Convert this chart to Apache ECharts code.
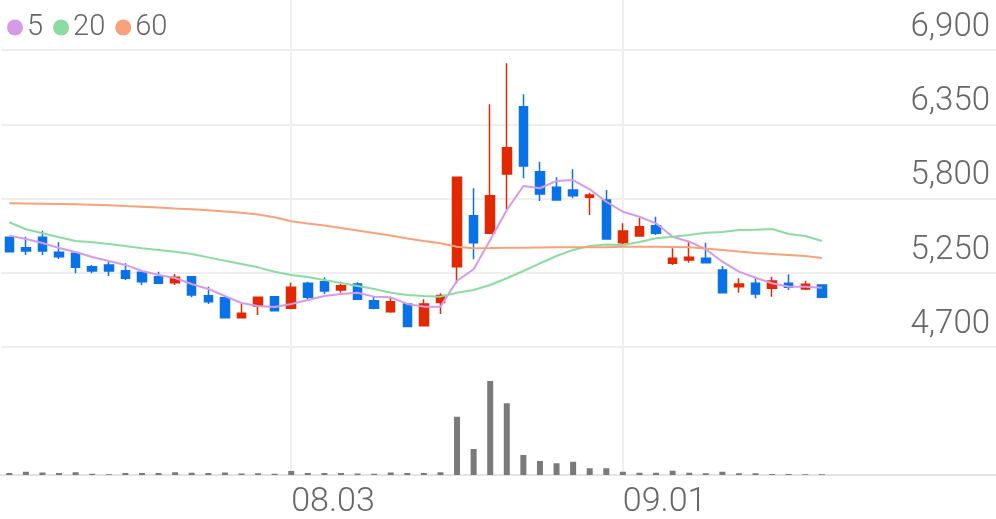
<!DOCTYPE html>
<html>
<head>
<meta charset="utf-8">
<script src="https://cdn.jsdelivr.net/npm/echarts@6/dist/echarts.min.js"></script>
<style>
  html, body { margin: 0; padding: 0; background: #fff; }
  #chart { width: 996px; height: 519px; }
</style>
</head>
<body>
<div id="chart"></div>
<script>
// trading days (last ten slots are empty space on the right)
const dates = [
  '07.09', '07.10', '07.13', '07.14', '07.15', '07.16', '07.17', '07.20', '07.21', '07.22',
  '07.23', '07.24', '07.27', '07.28', '07.29', '07.30', '07.31', '08.03', '08.04', '08.05',
  '08.06', '08.07', '08.10', '08.11', '08.12', '08.13', '08.14', '08.18', '08.19', '08.20',
  '08.21', '08.24', '08.25', '08.26', '08.27', '08.28', '08.31', '09.01', '09.02', '09.03',
  '09.04', '09.07', '09.08', '09.09', '09.10', '09.11', '09.14', '09.15', '09.16', '09.17',
  '09.18', '09.21', '09.22', '09.23', '09.24', '09.25', '09.28', '09.29', '10.05', '10.06'
];
const shownDates = ['08.03', '09.01'];

const opens = [
  5513, 5436, 5513, 5402, 5394, 5295, 5308, 5265, 5253, 5221,
  5176, 5221, 5080, 5065, 4917, 5004, 5073, 4987, 5172, 5184,
  5122, 5167, 5043, 4962, 5019, 4858, 5029, 5295, 5673, 5542,
  5982, 6480, 5999, 5883, 5863, 5809, 5789, 5473, 5522, 5599,
  5320, 5345, 5357, 5270, 5147, 5172, 5135, 5172, 5130, 5159
];
const closes = [
  5406, 5411, 5411, 5369, 5290, 5263, 5263, 5209, 5184, 5172,
  5216, 5085, 5036, 4917, 4950, 5068, 4969, 5142, 5068, 5115,
  5154, 5053, 4987, 5036, 4851, 5019, 5082, 5957, 5473, 5821,
  6176, 6041, 5833, 5789, 5821, 5826, 5500, 5559, 5591, 5542,
  5357, 5364, 5325, 5102, 5167, 5093, 5189, 5142, 5165, 5068
];
const lows = [
  5400, 5382, 5382, 5352, 5246, 5246, 5226, 5196, 5159, 5167,
  5159, 5068, 5019, 4915, 4915, 4937, 4965, 4980, 5053, 5093,
  5102, 5048, 4980, 4954, 4848, 4855, 4945, 5172, 5350, 5535,
  5720, 5950, 5782, 5784, 5802, 5678, 5495, 5448, 5520, 5530,
  5308, 5325, 5322, 5100, 5102, 5061, 5073, 5122, 5122, 5065
];
const highs = [
  5515, 5517, 5562, 5476, 5400, 5308, 5345, 5320, 5258, 5258,
  5241, 5225, 5147, 5070, 5028, 5072, 5078, 5176, 5184, 5216,
  5184, 5180, 5073, 5068, 5022, 5053, 5098, 5960, 5876, 6498,
  6801, 6572, 6073, 5957, 6016, 5843, 5863, 5616, 5658, 5665,
  5431, 5487, 5473, 5300, 5209, 5221, 5221, 5239, 5191, 5162
];

const ma5 = [
  5525, 5500, 5470, 5433, 5404, 5367, 5337, 5308, 5263, 5233,
  5211, 5167, 5130, 5078, 5026, 5004, 4996, 5019, 5048, 5078,
  5093, 5102, 5073, 5068, 5019, 4999, 4999, 5191, 5276, 5493,
  5715, 5893, 5876, 5930, 5937, 5868, 5776, 5702, 5665, 5616,
  5517, 5480, 5424, 5332, 5258, 5213, 5172, 5147, 5147, 5139
];
const ma20 = [
  5624, 5572, 5542, 5513, 5485, 5476, 5463, 5448, 5431, 5419,
  5406, 5389, 5364, 5339, 5315, 5290, 5258, 5233, 5219, 5196,
  5174, 5152, 5130, 5102, 5085, 5078, 5073, 5102, 5122, 5159,
  5209, 5263, 5320, 5374, 5419, 5448, 5460, 5456, 5478, 5505,
  5517, 5530, 5547, 5552, 5567, 5569, 5574, 5537, 5522, 5485
];
const ma60 = [
  5765, 5763, 5761, 5759, 5757, 5754, 5750, 5744, 5739, 5733,
  5726, 5720, 5713, 5704, 5695, 5682, 5661, 5631, 5615, 5600,
  5582, 5563, 5545, 5526, 5504, 5485, 5468, 5443, 5431, 5433,
  5436, 5436, 5437, 5438, 5438, 5438, 5438, 5442, 5442, 5442,
  5440, 5438, 5430, 5419, 5407, 5396, 5389, 5382, 5374, 5359
];

// volume, thousand shares
const volumes = [
  80, 130, 100, 80, 110, 50, 30, 80, 80, 80,
  110, 90, 80, 100, 60, 70, 50, 160, 80, 80,
  80, 60, 50, 100, 80, 80, 110, 2330, 1040, 3760,
  2870, 800, 560, 470, 530, 270, 270, 130, 90, 90,
  170, 90, 70, 130, 70, 70, 40, 40, 30, 30
];

const priceTicks = { min: 4700, max: 6900, step: 550 };

const UP = '#e12800';
const DOWN = '#0a72e8';
const TEXT = '#666666';
const FONT = 'Roboto';

const candles = opens.map((o, i) => [o, closes[i], lows[i], highs[i]]);

const chart = echarts.init(document.getElementById('chart'));

chart.setOption({
  animation: false,
  backgroundColor: '#ffffff',
  legend: {
    data: ['5', '20', '60'],
    left: 2,
    top: 8,
    icon: 'circle',
    itemWidth: 16,
    itemHeight: 16,
    itemGap: 10,
    textStyle: { color: TEXT, fontSize: 29, fontFamily: FONT, fontWeight: 300, padding: [0, 0, 0, -1] }
  },
  grid: [
    { left: 1, right: 0, top: 50, height: 297 },
    { left: 1, right: 0, top: 355, height: 120 },
    { left: 9.3, right: 8.3, top: 0, height: 475 }
  ],
  xAxis: [
    {
      type: 'category', gridIndex: 0, data: dates,
      axisLine: { show: false }, axisTick: { show: false }, axisLabel: { show: false },
      splitLine: { show: false }
    },
    {
      type: 'category', gridIndex: 1, data: dates,
      axisLine: { show: true, lineStyle: { color: '#e4e4e4', width: 2 } },
      axisTick: { show: false }, axisLabel: { show: false }, splitLine: { show: false }
    },
    {
      type: 'category', gridIndex: 2, data: dates, boundaryGap: false,
      axisLine: { show: false }, axisTick: { show: false },
      axisLabel: {
        interval: (i, v) => shownDates.includes(v),
        align: 'left', margin: 10,
        color: TEXT, fontSize: 34, fontFamily: FONT, fontWeight: 300
      },
      splitLine: {
        show: true,
        interval: (i, v) => shownDates.includes(v),
        lineStyle: { color: '#f0f0f0', width: 2 }
      }
    }
  ],
  yAxis: [
    {
      type: 'value', gridIndex: 0, position: 'right',
      min: priceTicks.min, max: priceTicks.max, interval: priceTicks.step,
      axisLine: { show: false }, axisTick: { show: false },
      axisLabel: {
        inside: true, margin: 6, verticalAlign: 'bottom',
        padding: [0, 0, 6, 0],
        color: TEXT, fontSize: 33, fontFamily: FONT, fontWeight: 300,
        formatter: v => v.toLocaleString('en-US')
      },
      splitLine: { lineStyle: { color: '#efefef', width: 2 } }
    },
    {
      type: 'value', gridIndex: 1, min: 0, max: 4800,
      axisLine: { show: false }, axisTick: { show: false },
      axisLabel: { show: false }, splitLine: { show: false }
    },
    {
      type: 'value', gridIndex: 2, show: false
    }
  ],
  series: [
    {
      name: 'price', type: 'candlestick', xAxisIndex: 0, yAxisIndex: 0,
      data: candles, barWidth: 9,
      itemStyle: { color: UP, color0: DOWN, borderColor: UP, borderColor0: DOWN, borderWidth: 1.5 }
    },
    {
      name: '5', type: 'line', xAxisIndex: 0, yAxisIndex: 0, data: ma5,
      symbol: 'none', itemStyle: { color: '#d59be9' }, lineStyle: { color: '#d59be9', width: 2 }
    },
    {
      name: '20', type: 'line', xAxisIndex: 0, yAxisIndex: 0, data: ma20,
      symbol: 'none', itemStyle: { color: '#8cdba2' }, lineStyle: { color: '#8cdba2', width: 2 }
    },
    {
      name: '60', type: 'line', xAxisIndex: 0, yAxisIndex: 0, data: ma60,
      symbol: 'none', itemStyle: { color: '#f7a27a' }, lineStyle: { color: '#f7a27a', width: 2 }
    },
    {
      name: 'volume', type: 'bar', xAxisIndex: 1, yAxisIndex: 1, data: volumes,
      barWidth: 6, itemStyle: { color: '#7a7a7a' }
    }
  ]
});
</script>
</body>
</html>
